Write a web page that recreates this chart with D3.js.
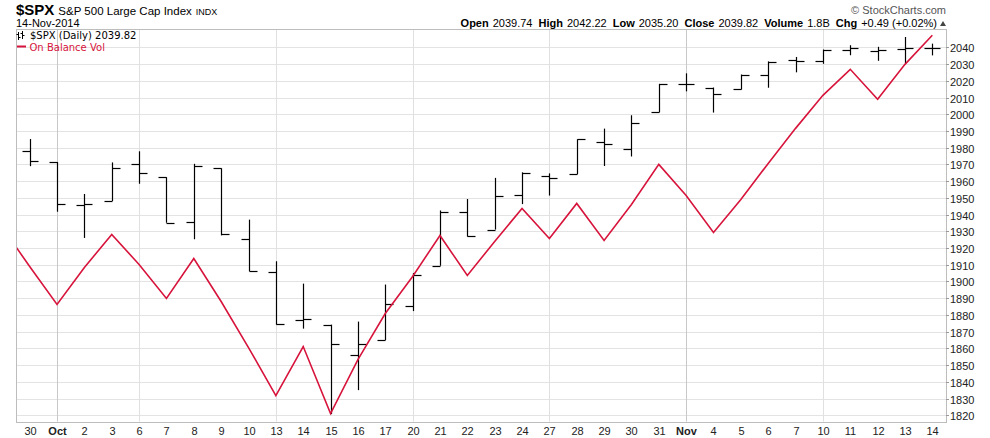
<!DOCTYPE html>
<html>
<head>
<meta charset="utf-8">
<script src="https://cdn.jsdelivr.net/npm/d3@7"></script>
<style>
  body { margin: 0; background: #fff; }
  svg { display: block; font-family: "Liberation Sans", Arial, sans-serif; }
</style>
</head>
<body>
<svg id="chart" width="990" height="438"></svg>
<script>
// trading days shown on the x axis (Sep 30 .. Nov 14, 2014)
const days = ["30","Oct","2","3","6","7","8","9","10","13","14","15","16","17","20","21","22","23","24",
  "27","28","29","30","31","Nov","4","5","6","7","10","11","12","13","14"];

const opens  = [1978.21,1971.44,1945.83,1948.12,1970.01,1962.36,1935.55,1967.68,1925.63,1905.65,1877.11,1874.18,1855.95,1864.91,1885.62,1909.38,1941.29,1931.02,1951.59,
  1962.97,1964.14,1983.29,1979.49,2001.20,2018.21,2015.81,2015.29,2023.33,2032.36,2032.01,2038.20,2037.75,2039.21,2039.74];
const highs  = [1985.17,1971.44,1952.32,1971.19,1977.84,1962.36,1970.36,1967.68,1936.98,1912.09,1898.71,1874.18,1876.01,1898.16,1905.03,1942.45,1949.31,1961.95,1965.27,
  1964.64,1985.05,1991.40,1999.40,2018.19,2024.46,2015.98,2023.77,2031.61,2034.26,2038.70,2041.28,2040.33,2046.18,2042.22];
const lows   = [1968.96,1941.72,1926.03,1948.12,1958.43,1935.10,1925.25,1927.56,1906.05,1874.14,1871.79,1820.66,1835.02,1864.91,1882.30,1909.38,1926.83,1931.02,1946.27,
  1951.37,1964.14,1969.04,1974.75,2001.20,2013.68,2001.01,2014.79,2015.86,2025.07,2030.17,2035.28,2031.95,2030.44,2035.20];
const closes = [1972.29,1946.16,1946.17,1967.90,1964.82,1935.10,1968.89,1928.21,1906.13,1874.74,1877.70,1862.49,1862.76,1886.76,1904.01,1941.28,1927.11,1950.82,1964.58,
  1961.63,1985.05,1982.30,1994.65,2018.05,2017.81,2012.10,2023.57,2031.21,2031.92,2038.26,2039.68,2038.25,2039.33,2039.82];

// On Balance Volume (billions, relative) - value of the day before the first bar, then one per bar
const obvPrior = 19.4;
const obv = [15.5,11.7,15.4,18.7,15.7,12.3,16.3,12.0,7.4,2.6,7.5,0.8,6.2,10.8,14.5,18.6,14.6,18.0,21.3,
  18.3,21.8,18.1,21.7,25.7,22.6,18.9,22.2,25.8,29.3,32.6,35.2,32.2,35.7,38.6];

const priceTicks = d3.range(1820, 2041, 10);
const weekStarts = [1, 4, 9, 14, 19, 24, 29];   // bar index of vertical grid lines
const monthStarts = [1, 24];

const header = [["Open", "2039.74"], ["High", "2042.22"], ["Low", "2035.20"], ["Close", "2039.82"],
  ["Volume", "1.8B"], ["Chg", "+0.49 (+0.02%)"]];

const svg = d3.select("#chart");
const L = 16, R = 946, T = 29.3, B = 421.6;

const x = d3.scaleBand().domain(d3.range(days.length)).range([L, R]).padding(0);
const cx = i => Math.round(x(i) + x.bandwidth() / 2) + 0.5;
const y = d3.scaleLinear().domain([1816.2, 2050.8]).range([B, T]);
const yObv = d3.scaleLinear().domain([0, 39.2]).range([B, T]);

// horizontal grid
svg.append("g").selectAll("line").data(priceTicks).join("line")
  .attr("x1", L).attr("x2", R)
  .attr("y1", d => Math.round(y(d)) + 0.5).attr("y2", d => Math.round(y(d)) + 0.5)
  .attr("stroke", "#e3e3e3").attr("stroke-width", 1);

// vertical grid
svg.append("g").selectAll("line").data(weekStarts).join("line")
  .attr("x1", d => cx(d)).attr("x2", d => cx(d))
  .attr("y1", T).attr("y2", B)
  .attr("stroke", d => monthStarts.includes(d) ? "#c8c8c8" : "#e0e0e0");

// plot frame
svg.append("rect")
  .attr("x", L + 0.5).attr("y", Math.round(T) + 0.5)
  .attr("width", R - L).attr("height", Math.round(B) - Math.round(T))
  .attr("fill", "none").attr("stroke", "#bdbdbd");

// right axis
const yAxis = svg.append("g");
priceTicks.forEach(p => {
  const yy = Math.round(y(p)) + 0.5;
  yAxis.append("line").attr("x1", R).attr("x2", R + 3).attr("y1", yy).attr("y2", yy).attr("stroke", "#999");
  yAxis.append("text").attr("x", R + 4).attr("y", yy + 4)
    .attr("font-size", 11).attr("fill", "#222").text(p);
});

// x labels
svg.append("g").selectAll("text").data(days).join("text")
  .attr("x", (d, i) => cx(i)).attr("y", 435)
  .attr("text-anchor", "middle").attr("font-size", 11).attr("fill", "#222")
  .attr("font-weight", d => (d === "Oct" || d === "Nov") ? "bold" : "normal")
  .text(d => d);

// clip for the OBV line
svg.append("clipPath").attr("id", "plotClip")
  .append("rect").attr("x", L + 1).attr("y", T).attr("width", R - L - 1).attr("height", B - T);

// OHLC bars
const bars = svg.append("g").attr("stroke", "#000").attr("stroke-width", 1.2);
days.forEach((d, i) => {
  const xc = cx(i);
  bars.append("line").attr("x1", xc).attr("x2", xc).attr("y1", y(highs[i])).attr("y2", y(lows[i]));
  bars.append("line").attr("x1", xc - 8).attr("x2", xc)
    .attr("y1", Math.round(y(opens[i])) + 0.5).attr("y2", Math.round(y(opens[i])) + 0.5);
  bars.append("line").attr("x1", xc).attr("x2", xc + 8)
    .attr("y1", Math.round(y(closes[i])) + 0.5).attr("y2", Math.round(y(closes[i])) + 0.5);
});

// OBV line
const obvPts = [[x(0) + x.bandwidth() / 2 - x.step(), obvPrior]]
  .concat(obv.map((v, i) => [x(i) + x.bandwidth() / 2, v]));
svg.append("path")
  .datum(obvPts)
  .attr("clip-path", "url(#plotClip)")
  .attr("fill", "none").attr("stroke", "#d7143c").attr("stroke-width", 1.6)
  .attr("d", d3.line().x(d => d[0]).y(d => yObv(d[1])));

// legend inside plot
const lg = svg.append("g");
lg.append("path").attr("d", "M18.5,32 V40 M16.5,34.5 H18.5 M18.5,37.5 H20.5 M22.5,31 V39 M20.5,33.5 H22.5 M22.5,35.5 H24.5")
  .attr("stroke", "#000").attr("fill", "none");
lg.append("text").attr("x", 30).attr("y", 38.5).attr("font-size", 10).attr("fill", "#000")
  .attr("font-family", "'DejaVu Sans', sans-serif")
  .text("$SPX (Daily) 2039.82");
lg.append("line").attr("x1", 17).attr("x2", 26).attr("y1", 46.5).attr("y2", 46.5)
  .attr("stroke", "#d7143c").attr("stroke-width", 2);
lg.append("text").attr("x", 29.5).attr("y", 50.5).attr("font-size", 10).attr("fill", "#d7143c")
  .attr("font-family", "'DejaVu Sans', sans-serif")
  .text("On Balance Vol");

// title block
const title = svg.append("text").attr("x", 16).attr("y", 15);
title.append("tspan").attr("font-size", 15).attr("font-weight", "bold").text("$SPX");
title.append("tspan").attr("dx", 4).attr("font-size", 11.5).text("S&P 500 Large Cap Index");
title.append("tspan").attr("dx", 4).attr("font-size", 9).text("INDX");

svg.append("text").attr("x", 16).attr("y", 27).attr("font-size", 11).text("14-Nov-2014");

svg.append("text").attr("x", 946).attr("y", 14).attr("text-anchor", "end")
  .attr("font-size", 11).attr("fill", "#555").text("\u00a9 StockCharts.com");

const quote = svg.append("text").attr("x", 937).attr("y", 27).attr("text-anchor", "end").attr("font-size", 11);
header.forEach(([k, v], i) => {
  quote.append("tspan").attr("font-weight", "bold").attr("dx", i ? 6 : 0).text(k);
  quote.append("tspan").attr("dx", 4).text(v);
});
svg.append("path").attr("d", "M940,26 L946,26 L943,21 Z").attr("fill", "#444");
</script>
</body>
</html>
